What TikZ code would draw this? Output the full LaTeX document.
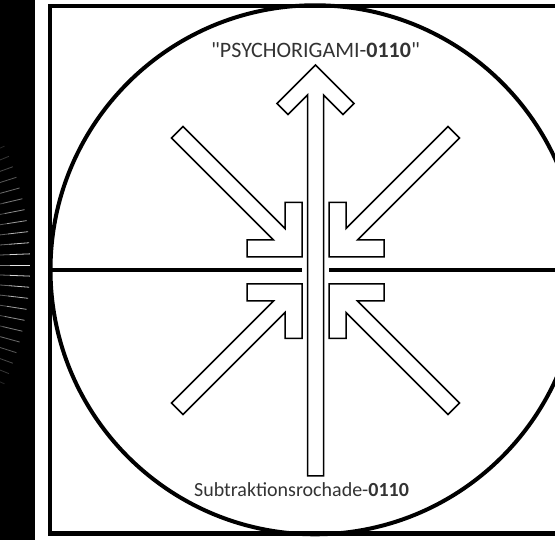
\documentclass[tikz,border=0pt]{standalone}
\usepackage{fontspec}
\setmainfont{Carlito}
\newfontfamily\qfont{Carlito}
\definecolor{txtgray}{HTML}{333333}
\begin{document}
\begin{tikzpicture}[x=1pt,y=1pt,
  frame/.style={line width=4.3pt},
  arrowshape/.style={draw=black,fill=white,line width=1.5pt,line join=miter},
  label/.style={text=txtgray,inner sep=0pt,anchor=base,font=\fontsize{20}{22}\selectfont}]
\useasboundingbox (0,0) rectangle (555,540);
\clip (0,0) rectangle (555,540);
\fill[white] (0,0) rectangle (555,540);
% left black strip with radial rays
\fill[black] (0,0) rectangle (34.5,540);
\begin{scope}
\clip (0,0) rectangle (34.5,540);
\foreach \a in {-28.6,-26.4,...,28.7}{
  \pgfmathsetmacro{\op}{max(0.15,0.9-abs(\a)/32)}
  \draw[white,opacity=\op*0.55,line width=0.8pt] (-260,275) ++(\a:235) -- ++(\a:35);
  \draw[white,opacity=\op,line width=0.8pt] (-260,275) ++(\a:270) -- ++(\a:20);
}
\end{scope}
% frame, circle, horizontal line
\draw[frame] (620,534.3) -- (49.7,534.3) -- (49.7,6.5) -- (620,6.5);
\draw[frame,line width=4pt] (315,270.2) circle[radius=264.5];
\coordinate (hl1) at (49.7,270);
\coordinate (hl2) at (302,270);
\coordinate (hr1) at (329,270);
\coordinate (hr2) at (620,270);
\draw[line width=3.6pt] (hl1) -- (hl2);
\draw[line width=3.6pt] (hr1) -- (hr2);
% arrows
\begin{scope}[shift={(315.5,269.5)}]
  \foreach \sx/\sy in {1/1,-1/1,1/-1,-1/-1}{
    \begin{scope}[xscale=\sx,yscale=\sy]
      \draw[arrowshape] (-132.5,144) -- (-30.5,42) -- (-30.5,68) -- (-13.5,68)
        -- (-13.5,13.5) -- (-68.5,13.5) -- (-68.5,30.5) -- (-42,30.5)
        -- (-144,132.5) -- cycle;
    \end{scope}
  }
  \draw[arrowshape] (-8,-205.5) -- (-8,175.5) -- (-27.5,156) -- (-38.5,167)
    -- (0,205.5) -- (38.5,167) -- (27.5,156) -- (8,175.5) -- (8,-205.5) -- cycle;
\end{scope}
% texts
\node[label,font=\fontsize{22}{24}\selectfont] (top) at (315.5,482) {{\qfont"}PSYCHORIGAMI-\textbf{0110}{\qfont"}};
\node[label] (bottom) at (301.5,43) {Subtraktionsrochade-\textbf{0110}};
\end{tikzpicture}
\end{document}
